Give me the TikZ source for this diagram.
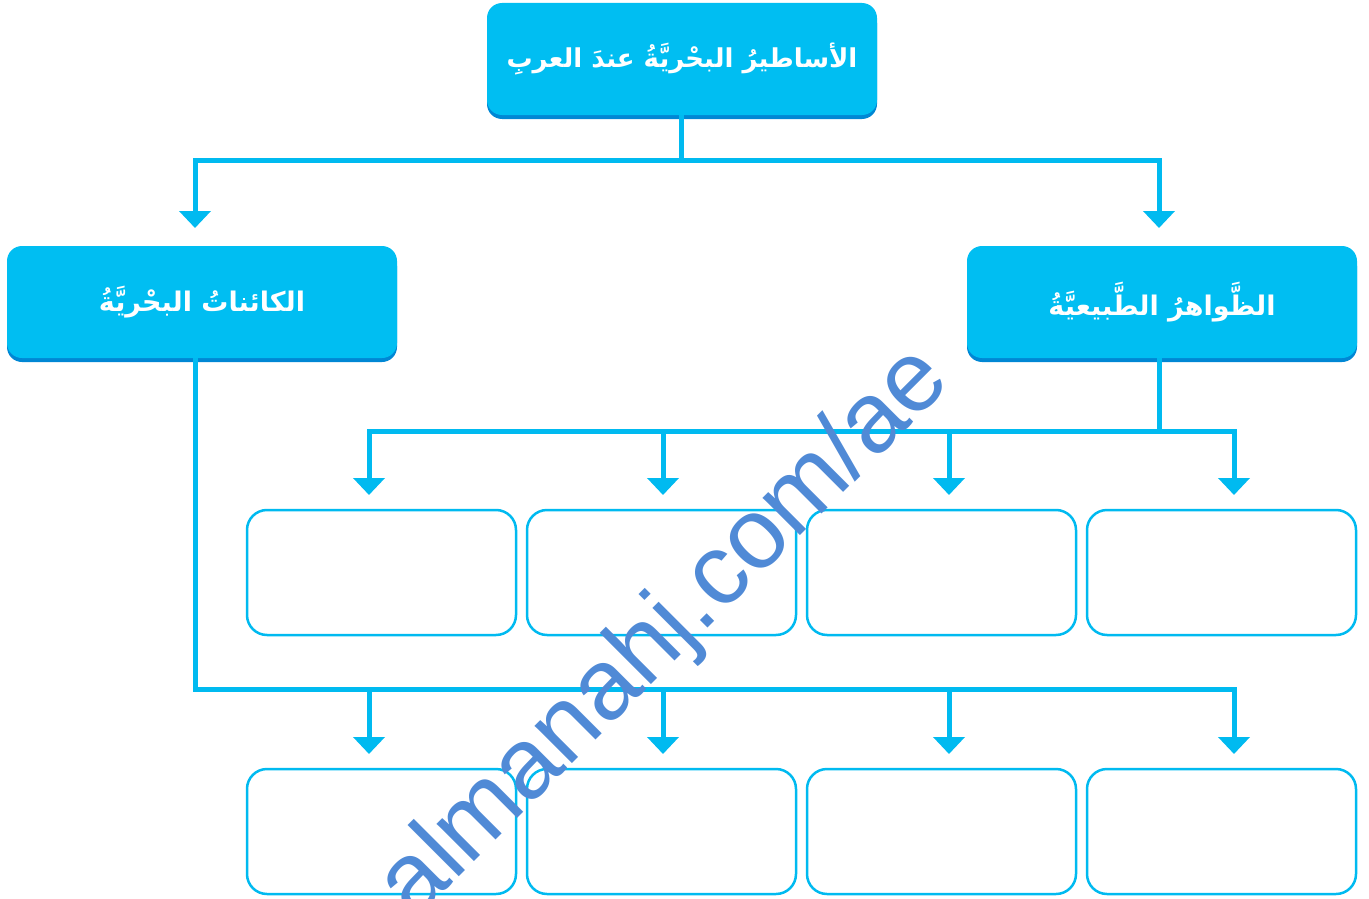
\documentclass[tikz,border=0pt]{standalone}
\usepackage{fontspec}
\usetikzlibrary{arrows.meta}
\newfontfamily\arabicfont[Script=Arabic]{DejaVu Sans}
\setmainfont{Liberation Sans}
\TeXXeTstate=1
\definecolor{cyanbox}{RGB}{0,190,242}
\definecolor{cyanshadow}{RGB}{0,135,212}
\definecolor{cyanline}{RGB}{0,186,240}
\definecolor{wmblue}{RGB}{80,138,214}
\tikzset{
  headbox/.style={rounded corners=15pt, fill=cyanbox, minimum width=390pt, minimum height=112pt,
    inner sep=0pt, text=white, font=\arabicfont\bfseries\fontsize{27}{32}\selectfont},
  shadowbox/.style={rounded corners=15pt, fill=cyanshadow},
  emptybox/.style={rounded corners=20pt, draw=cyanline, line width=2.5pt, minimum width=269pt,
    minimum height=125pt, inner sep=0pt},
  conn/.style={draw=cyanline, line width=5pt},
  arr/.style={conn, -{Triangle[width=31pt,length=17pt]}},
}
\begin{document}
\begin{tikzpicture}[x=1pt,y=-1pt]
\useasboundingbox (0,0) rectangle (1369,899);
\clip (0,0) rectangle (1369,899);
% shadows
\fill[shadowbox] (487,8) rectangle (877,119);
\fill[shadowbox] (7,251) rectangle (397,362);
\fill[shadowbox] (967,251) rectangle (1357,362);
% head boxes
\node[headbox, font=\arabicfont\bfseries\fontsize{26}{31}\selectfont] (top) at (682,59) {\beginR الأساطيرُ البحْريَّةُ عندَ العربِ\endR};
\node[headbox] (left) at (202,302) {\beginR الكائناتُ البحْريَّةُ\endR};
\node[headbox] (right) at (1162,302) {\beginR الظَّواهرُ الطَّبيعيَّةُ\endR};
% empty boxes
\node[emptybox] (m1) at (381.5,572.5) {};
\node[emptybox] (m2) at (661.5,572.5) {};
\node[emptybox] (m3) at (941.5,572.5) {};
\node[emptybox] (m4) at (1221.5,572.5) {};
\node[emptybox] (b1) at (381.5,831.5) {};
\node[emptybox] (b2) at (661.5,831.5) {};
\node[emptybox] (b3) at (941.5,831.5) {};
\node[emptybox] (b4) at (1221.5,831.5) {};
% arrow tips
\coordinate (tL) at (195,228);
\coordinate (tR) at (1159,228);
\coordinate (j1) at (681,160);
\coordinate (jm) at (1159,431);
\coordinate (jb) at (195,689);
\foreach \n/\x in {1/369,2/663,3/949,4/1234}{
  \coordinate (tm\n) at (\x,495);
  \coordinate (hm\n) at (\x,431);
  \coordinate (tb\n) at (\x,754);
  \coordinate (hb\n) at (\x,689);
}
% connectors level 1
\draw[arr] (top.south -| j1) -- (j1) -| (tL);
\draw[arr] (j1) -| (tR);
% level 2 (right)
\draw[arr] (right.south -| jm) -- (jm) -| (tm4);
\draw[arr] (jm) -| (tm1);
\foreach \n in {2,3}{ \draw[arr] ([yshift=-2.5pt]hm\n) -- (tm\n); }
% level 2 (left)
\draw[arr] (left.south -| jb) -- (jb) -| (tb4);
\foreach \n in {1,2,3}{ \draw[arr] ([yshift=-2.5pt]hb\n) -- (tb\n); }
% watermark
\node[text=wmblue, font=\fontsize{100}{100}\selectfont, rotate=45, anchor=base] (wm) at (684,652) {almanahj.com/ae};
\end{tikzpicture}
\end{document}
